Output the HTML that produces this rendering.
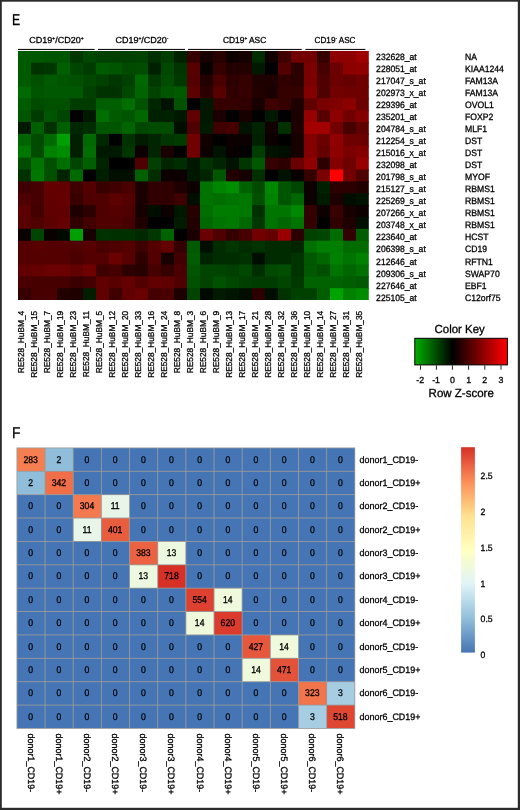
<!DOCTYPE html>
<html lang="en">
<head>
<meta charset="utf-8">
<title>Figure panels E and F</title>
<style>
html,body{margin:0;padding:0;background:#fff;}
body{width:520px;height:810px;overflow:hidden;font-family:"Liberation Sans",sans-serif;}
svg{display:block;}
text{text-rendering:geometricPrecision;white-space:pre;stroke:#000;stroke-width:0.3px;}
</style>
</head>
<body>
<svg width="520" height="810" viewBox="0 0 520 810" font-family="'Liberation Sans', sans-serif" fill="#000">
<defs>
<clipPath id="hc"><rect x="18.00" y="50.80" width="350.80" height="249.27"/></clipPath>
<linearGradient id="kg" x1="0" x2="1" y1="0" y2="0"><stop offset="0" stop-color="#00b000"/><stop offset="0.407" stop-color="#000000"/><stop offset="1" stop-color="#ff0000"/></linearGradient>
<linearGradient id="lg" x1="0" x2="0" y1="1" y2="0">
<stop offset="0.0000" stop-color="#4575B4"/>
<stop offset="0.1667" stop-color="#91BFDB"/>
<stop offset="0.3333" stop-color="#E0F3F8"/>
<stop offset="0.5000" stop-color="#FFFFBF"/>
<stop offset="0.6667" stop-color="#FEE090"/>
<stop offset="0.8333" stop-color="#FC8D59"/>
<stop offset="1.0000" stop-color="#D73027"/>
</linearGradient>
</defs>
<rect x="0" y="0" width="520" height="810" fill="#ffffff"/>
<text transform="translate(11.9,25.4) scale(0.78,1)" font-size="15.6">E</text>
<rect x="18.0" y="48.9" width="76.6" height="1.1" fill="#111"/>
<rect x="98.0" y="48.9" width="87.0" height="1.1" fill="#111"/>
<rect x="188.0" y="48.9" width="113.7" height="1.1" fill="#111"/>
<rect x="305.4" y="48.9" width="60.0" height="1.1" fill="#111"/>
<text x="29.2" y="42.5" font-size="8.7" textLength="54.5" lengthAdjust="spacingAndGlyphs">CD19<tspan font-size="4.8" dy="-2.8">+</tspan><tspan dy="2.8" font-size="8.7">/CD20</tspan><tspan font-size="4.8" dy="-2.8">+</tspan></text>
<text x="115.5" y="42.5" font-size="8.7" textLength="53.0" lengthAdjust="spacingAndGlyphs">CD19<tspan font-size="4.8" dy="-2.8">+</tspan><tspan dy="2.8" font-size="8.7">/CD20</tspan><tspan font-size="4.8" dy="-2.8">-</tspan></text>
<text x="222.9" y="42.5" font-size="8.7" textLength="43.4" lengthAdjust="spacingAndGlyphs">CD19<tspan font-size="4.8" dy="-2.8">+</tspan><tspan dy="2.8" font-size="8.7"> ASC</tspan></text>
<text x="314.6" y="42.5" font-size="8.7" textLength="40.9" lengthAdjust="spacingAndGlyphs">CD19<tspan font-size="4.8" dy="-2.8">-</tspan><tspan dy="2.8" font-size="8.7"> ASC</tspan></text>
<g clip-path="url(#hc)">
<rect x="18.00" y="50.80" width="14.00" height="12.87" fill="#005a00"/>
<rect x="31.00" y="50.80" width="14.00" height="12.87" fill="#005800"/>
<rect x="44.00" y="50.80" width="14.00" height="12.87" fill="#005500"/>
<rect x="57.00" y="50.80" width="14.00" height="12.87" fill="#005500"/>
<rect x="70.00" y="50.80" width="14.00" height="12.87" fill="#003700"/>
<rect x="83.00" y="50.80" width="14.00" height="12.87" fill="#004800"/>
<rect x="96.00" y="50.80" width="14.00" height="12.87" fill="#004000"/>
<rect x="109.00" y="50.80" width="14.00" height="12.87" fill="#004000"/>
<rect x="122.00" y="50.80" width="14.00" height="12.87" fill="#004000"/>
<rect x="135.00" y="50.80" width="14.00" height="12.87" fill="#004200"/>
<rect x="148.00" y="50.80" width="14.00" height="12.87" fill="#003000"/>
<rect x="161.00" y="50.80" width="14.00" height="12.87" fill="#003e00"/>
<rect x="174.00" y="50.80" width="14.00" height="12.87" fill="#002100"/>
<rect x="187.00" y="50.80" width="14.00" height="12.87" fill="#350000"/>
<rect x="200.00" y="50.80" width="14.00" height="12.87" fill="#160000"/>
<rect x="213.00" y="50.80" width="14.00" height="12.87" fill="#280000"/>
<rect x="226.00" y="50.80" width="14.00" height="12.87" fill="#0d0000"/>
<rect x="239.00" y="50.80" width="14.00" height="12.87" fill="#160000"/>
<rect x="252.00" y="50.80" width="14.00" height="12.87" fill="#002d00"/>
<rect x="265.00" y="50.80" width="14.00" height="12.87" fill="#120000"/>
<rect x="278.00" y="50.80" width="14.00" height="12.87" fill="#3e0000"/>
<rect x="291.00" y="50.80" width="14.00" height="12.87" fill="#720000"/>
<rect x="304.00" y="50.80" width="14.00" height="12.87" fill="#720000"/>
<rect x="317.00" y="50.80" width="14.00" height="12.87" fill="#350000"/>
<rect x="330.00" y="50.80" width="14.00" height="12.87" fill="#8d0000"/>
<rect x="343.00" y="50.80" width="14.00" height="12.87" fill="#8d0000"/>
<rect x="356.00" y="50.80" width="14.00" height="12.87" fill="#9e0000"/>
<rect x="18.00" y="62.67" width="14.00" height="12.87" fill="#005a00"/>
<rect x="31.00" y="62.67" width="14.00" height="12.87" fill="#003200"/>
<rect x="44.00" y="62.67" width="14.00" height="12.87" fill="#003700"/>
<rect x="57.00" y="62.67" width="14.00" height="12.87" fill="#005f00"/>
<rect x="70.00" y="62.67" width="14.00" height="12.87" fill="#004600"/>
<rect x="83.00" y="62.67" width="14.00" height="12.87" fill="#003c00"/>
<rect x="96.00" y="62.67" width="14.00" height="12.87" fill="#005a00"/>
<rect x="109.00" y="62.67" width="14.00" height="12.87" fill="#005500"/>
<rect x="122.00" y="62.67" width="14.00" height="12.87" fill="#004b00"/>
<rect x="135.00" y="62.67" width="14.00" height="12.87" fill="#004c00"/>
<rect x="148.00" y="62.67" width="14.00" height="12.87" fill="#002100"/>
<rect x="161.00" y="62.67" width="14.00" height="12.87" fill="#004700"/>
<rect x="174.00" y="62.67" width="14.00" height="12.87" fill="#003400"/>
<rect x="187.00" y="62.67" width="14.00" height="12.87" fill="#580000"/>
<rect x="200.00" y="62.67" width="14.00" height="12.87" fill="#090000"/>
<rect x="213.00" y="62.67" width="14.00" height="12.87" fill="#350000"/>
<rect x="226.00" y="62.67" width="14.00" height="12.87" fill="#230000"/>
<rect x="239.00" y="62.67" width="14.00" height="12.87" fill="#230000"/>
<rect x="252.00" y="62.67" width="14.00" height="12.87" fill="#001900"/>
<rect x="265.00" y="62.67" width="14.00" height="12.87" fill="#000000"/>
<rect x="278.00" y="62.67" width="14.00" height="12.87" fill="#540000"/>
<rect x="291.00" y="62.67" width="14.00" height="12.87" fill="#2c0000"/>
<rect x="304.00" y="62.67" width="14.00" height="12.87" fill="#7b0000"/>
<rect x="317.00" y="62.67" width="14.00" height="12.87" fill="#460000"/>
<rect x="330.00" y="62.67" width="14.00" height="12.87" fill="#6a0000"/>
<rect x="343.00" y="62.67" width="14.00" height="12.87" fill="#8d0000"/>
<rect x="356.00" y="62.67" width="14.00" height="12.87" fill="#910000"/>
<rect x="18.00" y="74.54" width="14.00" height="12.87" fill="#005a00"/>
<rect x="31.00" y="74.54" width="14.00" height="12.87" fill="#005000"/>
<rect x="44.00" y="74.54" width="14.00" height="12.87" fill="#005a00"/>
<rect x="57.00" y="74.54" width="14.00" height="12.87" fill="#005500"/>
<rect x="70.00" y="74.54" width="14.00" height="12.87" fill="#005000"/>
<rect x="83.00" y="74.54" width="14.00" height="12.87" fill="#004800"/>
<rect x="96.00" y="74.54" width="14.00" height="12.87" fill="#004000"/>
<rect x="109.00" y="74.54" width="14.00" height="12.87" fill="#003700"/>
<rect x="122.00" y="74.54" width="14.00" height="12.87" fill="#004000"/>
<rect x="135.00" y="74.54" width="14.00" height="12.87" fill="#006800"/>
<rect x="148.00" y="74.54" width="14.00" height="12.87" fill="#003900"/>
<rect x="161.00" y="74.54" width="14.00" height="12.87" fill="#004c00"/>
<rect x="174.00" y="74.54" width="14.00" height="12.87" fill="#003900"/>
<rect x="187.00" y="74.54" width="14.00" height="12.87" fill="#540000"/>
<rect x="200.00" y="74.54" width="14.00" height="12.87" fill="#230000"/>
<rect x="213.00" y="74.54" width="14.00" height="12.87" fill="#4b0000"/>
<rect x="226.00" y="74.54" width="14.00" height="12.87" fill="#2c0000"/>
<rect x="239.00" y="74.54" width="14.00" height="12.87" fill="#350000"/>
<rect x="252.00" y="74.54" width="14.00" height="12.87" fill="#1f0000"/>
<rect x="265.00" y="74.54" width="14.00" height="12.87" fill="#1f0000"/>
<rect x="278.00" y="74.54" width="14.00" height="12.87" fill="#300000"/>
<rect x="291.00" y="74.54" width="14.00" height="12.87" fill="#2c0000"/>
<rect x="304.00" y="74.54" width="14.00" height="12.87" fill="#7b0000"/>
<rect x="317.00" y="74.54" width="14.00" height="12.87" fill="#4f0000"/>
<rect x="330.00" y="74.54" width="14.00" height="12.87" fill="#6a0000"/>
<rect x="343.00" y="74.54" width="14.00" height="12.87" fill="#650000"/>
<rect x="356.00" y="74.54" width="14.00" height="12.87" fill="#6e0000"/>
<rect x="18.00" y="86.41" width="14.00" height="12.87" fill="#006900"/>
<rect x="31.00" y="86.41" width="14.00" height="12.87" fill="#005500"/>
<rect x="44.00" y="86.41" width="14.00" height="12.87" fill="#005800"/>
<rect x="57.00" y="86.41" width="14.00" height="12.87" fill="#005800"/>
<rect x="70.00" y="86.41" width="14.00" height="12.87" fill="#005800"/>
<rect x="83.00" y="86.41" width="14.00" height="12.87" fill="#004000"/>
<rect x="96.00" y="86.41" width="14.00" height="12.87" fill="#003200"/>
<rect x="109.00" y="86.41" width="14.00" height="12.87" fill="#003200"/>
<rect x="122.00" y="86.41" width="14.00" height="12.87" fill="#004800"/>
<rect x="135.00" y="86.41" width="14.00" height="12.87" fill="#006400"/>
<rect x="148.00" y="86.41" width="14.00" height="12.87" fill="#004200"/>
<rect x="161.00" y="86.41" width="14.00" height="12.87" fill="#005600"/>
<rect x="174.00" y="86.41" width="14.00" height="12.87" fill="#005a00"/>
<rect x="187.00" y="86.41" width="14.00" height="12.87" fill="#5c0000"/>
<rect x="200.00" y="86.41" width="14.00" height="12.87" fill="#2c0000"/>
<rect x="213.00" y="86.41" width="14.00" height="12.87" fill="#580000"/>
<rect x="226.00" y="86.41" width="14.00" height="12.87" fill="#300000"/>
<rect x="239.00" y="86.41" width="14.00" height="12.87" fill="#350000"/>
<rect x="252.00" y="86.41" width="14.00" height="12.87" fill="#230000"/>
<rect x="265.00" y="86.41" width="14.00" height="12.87" fill="#1a0000"/>
<rect x="278.00" y="86.41" width="14.00" height="12.87" fill="#350000"/>
<rect x="291.00" y="86.41" width="14.00" height="12.87" fill="#350000"/>
<rect x="304.00" y="86.41" width="14.00" height="12.87" fill="#840000"/>
<rect x="317.00" y="86.41" width="14.00" height="12.87" fill="#4f0000"/>
<rect x="330.00" y="86.41" width="14.00" height="12.87" fill="#720000"/>
<rect x="343.00" y="86.41" width="14.00" height="12.87" fill="#6e0000"/>
<rect x="356.00" y="86.41" width="14.00" height="12.87" fill="#6e0000"/>
<rect x="18.00" y="98.28" width="14.00" height="12.87" fill="#005a00"/>
<rect x="31.00" y="98.28" width="14.00" height="12.87" fill="#004b00"/>
<rect x="44.00" y="98.28" width="14.00" height="12.87" fill="#005000"/>
<rect x="57.00" y="98.28" width="14.00" height="12.87" fill="#005000"/>
<rect x="70.00" y="98.28" width="14.00" height="12.87" fill="#003c00"/>
<rect x="83.00" y="98.28" width="14.00" height="12.87" fill="#003c00"/>
<rect x="96.00" y="98.28" width="14.00" height="12.87" fill="#005f00"/>
<rect x="109.00" y="98.28" width="14.00" height="12.87" fill="#005f00"/>
<rect x="122.00" y="98.28" width="14.00" height="12.87" fill="#006e00"/>
<rect x="135.00" y="98.28" width="14.00" height="12.87" fill="#005100"/>
<rect x="148.00" y="98.28" width="14.00" height="12.87" fill="#002600"/>
<rect x="161.00" y="98.28" width="14.00" height="12.87" fill="#001300"/>
<rect x="174.00" y="98.28" width="14.00" height="12.87" fill="#005100"/>
<rect x="187.00" y="98.28" width="14.00" height="12.87" fill="#000000"/>
<rect x="200.00" y="98.28" width="14.00" height="12.87" fill="#001800"/>
<rect x="213.00" y="98.28" width="14.00" height="12.87" fill="#350000"/>
<rect x="226.00" y="98.28" width="14.00" height="12.87" fill="#350000"/>
<rect x="239.00" y="98.28" width="14.00" height="12.87" fill="#300000"/>
<rect x="252.00" y="98.28" width="14.00" height="12.87" fill="#160000"/>
<rect x="265.00" y="98.28" width="14.00" height="12.87" fill="#3e0000"/>
<rect x="278.00" y="98.28" width="14.00" height="12.87" fill="#350000"/>
<rect x="291.00" y="98.28" width="14.00" height="12.87" fill="#1f0000"/>
<rect x="304.00" y="98.28" width="14.00" height="12.87" fill="#610000"/>
<rect x="317.00" y="98.28" width="14.00" height="12.87" fill="#7b0000"/>
<rect x="330.00" y="98.28" width="14.00" height="12.87" fill="#800000"/>
<rect x="343.00" y="98.28" width="14.00" height="12.87" fill="#8d0000"/>
<rect x="356.00" y="98.28" width="14.00" height="12.87" fill="#6a0000"/>
<rect x="18.00" y="110.15" width="14.00" height="12.87" fill="#005500"/>
<rect x="31.00" y="110.15" width="14.00" height="12.87" fill="#003c00"/>
<rect x="44.00" y="110.15" width="14.00" height="12.87" fill="#005500"/>
<rect x="57.00" y="110.15" width="14.00" height="12.87" fill="#004600"/>
<rect x="70.00" y="110.15" width="14.00" height="12.87" fill="#000000"/>
<rect x="83.00" y="110.15" width="14.00" height="12.87" fill="#001900"/>
<rect x="96.00" y="110.15" width="14.00" height="12.87" fill="#006e00"/>
<rect x="109.00" y="110.15" width="14.00" height="12.87" fill="#005a00"/>
<rect x="122.00" y="110.15" width="14.00" height="12.87" fill="#005500"/>
<rect x="135.00" y="110.15" width="14.00" height="12.87" fill="#006800"/>
<rect x="148.00" y="110.15" width="14.00" height="12.87" fill="#002100"/>
<rect x="161.00" y="110.15" width="14.00" height="12.87" fill="#002100"/>
<rect x="174.00" y="110.15" width="14.00" height="12.87" fill="#001800"/>
<rect x="187.00" y="110.15" width="14.00" height="12.87" fill="#610000"/>
<rect x="200.00" y="110.15" width="14.00" height="12.87" fill="#001800"/>
<rect x="213.00" y="110.15" width="14.00" height="12.87" fill="#1a0000"/>
<rect x="226.00" y="110.15" width="14.00" height="12.87" fill="#000000"/>
<rect x="239.00" y="110.15" width="14.00" height="12.87" fill="#160000"/>
<rect x="252.00" y="110.15" width="14.00" height="12.87" fill="#000000"/>
<rect x="265.00" y="110.15" width="14.00" height="12.87" fill="#001900"/>
<rect x="278.00" y="110.15" width="14.00" height="12.87" fill="#000000"/>
<rect x="291.00" y="110.15" width="14.00" height="12.87" fill="#1a0000"/>
<rect x="304.00" y="110.15" width="14.00" height="12.87" fill="#960000"/>
<rect x="317.00" y="110.15" width="14.00" height="12.87" fill="#580000"/>
<rect x="330.00" y="110.15" width="14.00" height="12.87" fill="#8d0000"/>
<rect x="343.00" y="110.15" width="14.00" height="12.87" fill="#720000"/>
<rect x="356.00" y="110.15" width="14.00" height="12.87" fill="#840000"/>
<rect x="18.00" y="122.02" width="14.00" height="12.87" fill="#001900"/>
<rect x="31.00" y="122.02" width="14.00" height="12.87" fill="#005f00"/>
<rect x="44.00" y="122.02" width="14.00" height="12.87" fill="#003200"/>
<rect x="57.00" y="122.02" width="14.00" height="12.87" fill="#005f00"/>
<rect x="70.00" y="122.02" width="14.00" height="12.87" fill="#002800"/>
<rect x="83.00" y="122.02" width="14.00" height="12.87" fill="#002d00"/>
<rect x="96.00" y="122.02" width="14.00" height="12.87" fill="#005500"/>
<rect x="109.00" y="122.02" width="14.00" height="12.87" fill="#005500"/>
<rect x="122.00" y="122.02" width="14.00" height="12.87" fill="#006400"/>
<rect x="135.00" y="122.02" width="14.00" height="12.87" fill="#004700"/>
<rect x="148.00" y="122.02" width="14.00" height="12.87" fill="#004c00"/>
<rect x="161.00" y="122.02" width="14.00" height="12.87" fill="#004c00"/>
<rect x="174.00" y="122.02" width="14.00" height="12.87" fill="#000e00"/>
<rect x="187.00" y="122.02" width="14.00" height="12.87" fill="#4f0000"/>
<rect x="200.00" y="122.02" width="14.00" height="12.87" fill="#001c00"/>
<rect x="213.00" y="122.02" width="14.00" height="12.87" fill="#3e0000"/>
<rect x="226.00" y="122.02" width="14.00" height="12.87" fill="#460000"/>
<rect x="239.00" y="122.02" width="14.00" height="12.87" fill="#001300"/>
<rect x="252.00" y="122.02" width="14.00" height="12.87" fill="#002300"/>
<rect x="265.00" y="122.02" width="14.00" height="12.87" fill="#120000"/>
<rect x="278.00" y="122.02" width="14.00" height="12.87" fill="#003200"/>
<rect x="291.00" y="122.02" width="14.00" height="12.87" fill="#1f0000"/>
<rect x="304.00" y="122.02" width="14.00" height="12.87" fill="#a30000"/>
<rect x="317.00" y="122.02" width="14.00" height="12.87" fill="#a30000"/>
<rect x="330.00" y="122.02" width="14.00" height="12.87" fill="#720000"/>
<rect x="343.00" y="122.02" width="14.00" height="12.87" fill="#460000"/>
<rect x="356.00" y="122.02" width="14.00" height="12.87" fill="#610000"/>
<rect x="18.00" y="133.89" width="14.00" height="12.87" fill="#006400"/>
<rect x="31.00" y="133.89" width="14.00" height="12.87" fill="#004b00"/>
<rect x="44.00" y="133.89" width="14.00" height="12.87" fill="#006900"/>
<rect x="57.00" y="133.89" width="14.00" height="12.87" fill="#00a000"/>
<rect x="70.00" y="133.89" width="14.00" height="12.87" fill="#001e00"/>
<rect x="83.00" y="133.89" width="14.00" height="12.87" fill="#006900"/>
<rect x="96.00" y="133.89" width="14.00" height="12.87" fill="#002800"/>
<rect x="109.00" y="133.89" width="14.00" height="12.87" fill="#000000"/>
<rect x="122.00" y="133.89" width="14.00" height="12.87" fill="#003200"/>
<rect x="135.00" y="133.89" width="14.00" height="12.87" fill="#001c00"/>
<rect x="148.00" y="133.89" width="14.00" height="12.87" fill="#002500"/>
<rect x="161.00" y="133.89" width="14.00" height="12.87" fill="#003700"/>
<rect x="174.00" y="133.89" width="14.00" height="12.87" fill="#003c00"/>
<rect x="187.00" y="133.89" width="14.00" height="12.87" fill="#720000"/>
<rect x="200.00" y="133.89" width="14.00" height="12.87" fill="#120000"/>
<rect x="213.00" y="133.89" width="14.00" height="12.87" fill="#000000"/>
<rect x="226.00" y="133.89" width="14.00" height="12.87" fill="#0d0000"/>
<rect x="239.00" y="133.89" width="14.00" height="12.87" fill="#0d0000"/>
<rect x="252.00" y="133.89" width="14.00" height="12.87" fill="#002100"/>
<rect x="265.00" y="133.89" width="14.00" height="12.87" fill="#0d0000"/>
<rect x="278.00" y="133.89" width="14.00" height="12.87" fill="#000000"/>
<rect x="291.00" y="133.89" width="14.00" height="12.87" fill="#160000"/>
<rect x="304.00" y="133.89" width="14.00" height="12.87" fill="#840000"/>
<rect x="317.00" y="133.89" width="14.00" height="12.87" fill="#6a0000"/>
<rect x="330.00" y="133.89" width="14.00" height="12.87" fill="#910000"/>
<rect x="343.00" y="133.89" width="14.00" height="12.87" fill="#6e0000"/>
<rect x="356.00" y="133.89" width="14.00" height="12.87" fill="#6a0000"/>
<rect x="18.00" y="145.76" width="14.00" height="12.87" fill="#007800"/>
<rect x="31.00" y="145.76" width="14.00" height="12.87" fill="#004b00"/>
<rect x="44.00" y="145.76" width="14.00" height="12.87" fill="#008200"/>
<rect x="57.00" y="145.76" width="14.00" height="12.87" fill="#008c00"/>
<rect x="70.00" y="145.76" width="14.00" height="12.87" fill="#001e00"/>
<rect x="83.00" y="145.76" width="14.00" height="12.87" fill="#006e00"/>
<rect x="96.00" y="145.76" width="14.00" height="12.87" fill="#001900"/>
<rect x="109.00" y="145.76" width="14.00" height="12.87" fill="#001900"/>
<rect x="122.00" y="145.76" width="14.00" height="12.87" fill="#003700"/>
<rect x="135.00" y="145.76" width="14.00" height="12.87" fill="#0d0000"/>
<rect x="148.00" y="145.76" width="14.00" height="12.87" fill="#002500"/>
<rect x="161.00" y="145.76" width="14.00" height="12.87" fill="#1a0000"/>
<rect x="174.00" y="145.76" width="14.00" height="12.87" fill="#000000"/>
<rect x="187.00" y="145.76" width="14.00" height="12.87" fill="#720000"/>
<rect x="200.00" y="145.76" width="14.00" height="12.87" fill="#0d0000"/>
<rect x="213.00" y="145.76" width="14.00" height="12.87" fill="#001200"/>
<rect x="226.00" y="145.76" width="14.00" height="12.87" fill="#090000"/>
<rect x="239.00" y="145.76" width="14.00" height="12.87" fill="#000000"/>
<rect x="252.00" y="145.76" width="14.00" height="12.87" fill="#003d00"/>
<rect x="265.00" y="145.76" width="14.00" height="12.87" fill="#001300"/>
<rect x="278.00" y="145.76" width="14.00" height="12.87" fill="#000e00"/>
<rect x="291.00" y="145.76" width="14.00" height="12.87" fill="#160000"/>
<rect x="304.00" y="145.76" width="14.00" height="12.87" fill="#840000"/>
<rect x="317.00" y="145.76" width="14.00" height="12.87" fill="#650000"/>
<rect x="330.00" y="145.76" width="14.00" height="12.87" fill="#8d0000"/>
<rect x="343.00" y="145.76" width="14.00" height="12.87" fill="#7b0000"/>
<rect x="356.00" y="145.76" width="14.00" height="12.87" fill="#840000"/>
<rect x="18.00" y="157.63" width="14.00" height="12.87" fill="#004b00"/>
<rect x="31.00" y="157.63" width="14.00" height="12.87" fill="#007300"/>
<rect x="44.00" y="157.63" width="14.00" height="12.87" fill="#005000"/>
<rect x="57.00" y="157.63" width="14.00" height="12.87" fill="#006e00"/>
<rect x="70.00" y="157.63" width="14.00" height="12.87" fill="#004600"/>
<rect x="83.00" y="157.63" width="14.00" height="12.87" fill="#005f00"/>
<rect x="96.00" y="157.63" width="14.00" height="12.87" fill="#002300"/>
<rect x="109.00" y="157.63" width="14.00" height="12.87" fill="#000000"/>
<rect x="122.00" y="157.63" width="14.00" height="12.87" fill="#000000"/>
<rect x="135.00" y="157.63" width="14.00" height="12.87" fill="#4f0000"/>
<rect x="148.00" y="157.63" width="14.00" height="12.87" fill="#004000"/>
<rect x="161.00" y="157.63" width="14.00" height="12.87" fill="#002500"/>
<rect x="174.00" y="157.63" width="14.00" height="12.87" fill="#002e00"/>
<rect x="187.00" y="157.63" width="14.00" height="12.87" fill="#001700"/>
<rect x="200.00" y="157.63" width="14.00" height="12.87" fill="#003300"/>
<rect x="213.00" y="157.63" width="14.00" height="12.87" fill="#002500"/>
<rect x="226.00" y="157.63" width="14.00" height="12.87" fill="#001200"/>
<rect x="239.00" y="157.63" width="14.00" height="12.87" fill="#003700"/>
<rect x="252.00" y="157.63" width="14.00" height="12.87" fill="#005900"/>
<rect x="265.00" y="157.63" width="14.00" height="12.87" fill="#350000"/>
<rect x="278.00" y="157.63" width="14.00" height="12.87" fill="#2c0000"/>
<rect x="291.00" y="157.63" width="14.00" height="12.87" fill="#6a0000"/>
<rect x="304.00" y="157.63" width="14.00" height="12.87" fill="#910000"/>
<rect x="317.00" y="157.63" width="14.00" height="12.87" fill="#2c0000"/>
<rect x="330.00" y="157.63" width="14.00" height="12.87" fill="#840000"/>
<rect x="343.00" y="157.63" width="14.00" height="12.87" fill="#6e0000"/>
<rect x="356.00" y="157.63" width="14.00" height="12.87" fill="#960000"/>
<rect x="18.00" y="169.50" width="14.00" height="12.87" fill="#003200"/>
<rect x="31.00" y="169.50" width="14.00" height="12.87" fill="#007800"/>
<rect x="44.00" y="169.50" width="14.00" height="12.87" fill="#005000"/>
<rect x="57.00" y="169.50" width="14.00" height="12.87" fill="#002300"/>
<rect x="70.00" y="169.50" width="14.00" height="12.87" fill="#006900"/>
<rect x="83.00" y="169.50" width="14.00" height="12.87" fill="#000000"/>
<rect x="96.00" y="169.50" width="14.00" height="12.87" fill="#001e00"/>
<rect x="109.00" y="169.50" width="14.00" height="12.87" fill="#000f00"/>
<rect x="122.00" y="169.50" width="14.00" height="12.87" fill="#000f00"/>
<rect x="135.00" y="169.50" width="14.00" height="12.87" fill="#006100"/>
<rect x="148.00" y="169.50" width="14.00" height="12.87" fill="#002e00"/>
<rect x="161.00" y="169.50" width="14.00" height="12.87" fill="#0d0000"/>
<rect x="174.00" y="169.50" width="14.00" height="12.87" fill="#0d0000"/>
<rect x="187.00" y="169.50" width="14.00" height="12.87" fill="#001700"/>
<rect x="200.00" y="169.50" width="14.00" height="12.87" fill="#002500"/>
<rect x="213.00" y="169.50" width="14.00" height="12.87" fill="#005700"/>
<rect x="226.00" y="169.50" width="14.00" height="12.87" fill="#230000"/>
<rect x="239.00" y="169.50" width="14.00" height="12.87" fill="#160000"/>
<rect x="252.00" y="169.50" width="14.00" height="12.87" fill="#002f00"/>
<rect x="265.00" y="169.50" width="14.00" height="12.87" fill="#000000"/>
<rect x="278.00" y="169.50" width="14.00" height="12.87" fill="#001300"/>
<rect x="291.00" y="169.50" width="14.00" height="12.87" fill="#090000"/>
<rect x="304.00" y="169.50" width="14.00" height="12.87" fill="#350000"/>
<rect x="317.00" y="169.50" width="14.00" height="12.87" fill="#7b0000"/>
<rect x="330.00" y="169.50" width="14.00" height="12.87" fill="#ff0000"/>
<rect x="343.00" y="169.50" width="14.00" height="12.87" fill="#720000"/>
<rect x="356.00" y="169.50" width="14.00" height="12.87" fill="#4f0000"/>
<rect x="18.00" y="181.37" width="14.00" height="12.87" fill="#3e0000"/>
<rect x="31.00" y="181.37" width="14.00" height="12.87" fill="#460000"/>
<rect x="44.00" y="181.37" width="14.00" height="12.87" fill="#650000"/>
<rect x="57.00" y="181.37" width="14.00" height="12.87" fill="#610000"/>
<rect x="70.00" y="181.37" width="14.00" height="12.87" fill="#3e0000"/>
<rect x="83.00" y="181.37" width="14.00" height="12.87" fill="#540000"/>
<rect x="96.00" y="181.37" width="14.00" height="12.87" fill="#390000"/>
<rect x="109.00" y="181.37" width="14.00" height="12.87" fill="#3e0000"/>
<rect x="122.00" y="181.37" width="14.00" height="12.87" fill="#4b0000"/>
<rect x="135.00" y="181.37" width="14.00" height="12.87" fill="#1a0000"/>
<rect x="148.00" y="181.37" width="14.00" height="12.87" fill="#300000"/>
<rect x="161.00" y="181.37" width="14.00" height="12.87" fill="#300000"/>
<rect x="174.00" y="181.37" width="14.00" height="12.87" fill="#1f0000"/>
<rect x="187.00" y="181.37" width="14.00" height="12.87" fill="#0d0000"/>
<rect x="200.00" y="181.37" width="14.00" height="12.87" fill="#007300"/>
<rect x="213.00" y="181.37" width="14.00" height="12.87" fill="#008500"/>
<rect x="226.00" y="181.37" width="14.00" height="12.87" fill="#008f00"/>
<rect x="239.00" y="181.37" width="14.00" height="12.87" fill="#006100"/>
<rect x="252.00" y="181.37" width="14.00" height="12.87" fill="#004b00"/>
<rect x="265.00" y="181.37" width="14.00" height="12.87" fill="#008800"/>
<rect x="278.00" y="181.37" width="14.00" height="12.87" fill="#005500"/>
<rect x="291.00" y="181.37" width="14.00" height="12.87" fill="#004600"/>
<rect x="304.00" y="181.37" width="14.00" height="12.87" fill="#0d0000"/>
<rect x="317.00" y="181.37" width="14.00" height="12.87" fill="#002100"/>
<rect x="330.00" y="181.37" width="14.00" height="12.87" fill="#2c0000"/>
<rect x="343.00" y="181.37" width="14.00" height="12.87" fill="#2c0000"/>
<rect x="356.00" y="181.37" width="14.00" height="12.87" fill="#230000"/>
<rect x="18.00" y="193.24" width="14.00" height="12.87" fill="#4f0000"/>
<rect x="31.00" y="193.24" width="14.00" height="12.87" fill="#460000"/>
<rect x="44.00" y="193.24" width="14.00" height="12.87" fill="#610000"/>
<rect x="57.00" y="193.24" width="14.00" height="12.87" fill="#650000"/>
<rect x="70.00" y="193.24" width="14.00" height="12.87" fill="#390000"/>
<rect x="83.00" y="193.24" width="14.00" height="12.87" fill="#4f0000"/>
<rect x="96.00" y="193.24" width="14.00" height="12.87" fill="#4f0000"/>
<rect x="109.00" y="193.24" width="14.00" height="12.87" fill="#5c0000"/>
<rect x="122.00" y="193.24" width="14.00" height="12.87" fill="#540000"/>
<rect x="135.00" y="193.24" width="14.00" height="12.87" fill="#1a0000"/>
<rect x="148.00" y="193.24" width="14.00" height="12.87" fill="#300000"/>
<rect x="161.00" y="193.24" width="14.00" height="12.87" fill="#300000"/>
<rect x="174.00" y="193.24" width="14.00" height="12.87" fill="#3e0000"/>
<rect x="187.00" y="193.24" width="14.00" height="12.87" fill="#000e00"/>
<rect x="200.00" y="193.24" width="14.00" height="12.87" fill="#007300"/>
<rect x="213.00" y="193.24" width="14.00" height="12.87" fill="#006e00"/>
<rect x="226.00" y="193.24" width="14.00" height="12.87" fill="#007300"/>
<rect x="239.00" y="193.24" width="14.00" height="12.87" fill="#007800"/>
<rect x="252.00" y="193.24" width="14.00" height="12.87" fill="#005000"/>
<rect x="265.00" y="193.24" width="14.00" height="12.87" fill="#008400"/>
<rect x="278.00" y="193.24" width="14.00" height="12.87" fill="#005500"/>
<rect x="291.00" y="193.24" width="14.00" height="12.87" fill="#006700"/>
<rect x="304.00" y="193.24" width="14.00" height="12.87" fill="#0d0000"/>
<rect x="317.00" y="193.24" width="14.00" height="12.87" fill="#001c00"/>
<rect x="330.00" y="193.24" width="14.00" height="12.87" fill="#1f0000"/>
<rect x="343.00" y="193.24" width="14.00" height="12.87" fill="#000e00"/>
<rect x="356.00" y="193.24" width="14.00" height="12.87" fill="#001300"/>
<rect x="18.00" y="205.11" width="14.00" height="12.87" fill="#5c0000"/>
<rect x="31.00" y="205.11" width="14.00" height="12.87" fill="#420000"/>
<rect x="44.00" y="205.11" width="14.00" height="12.87" fill="#610000"/>
<rect x="57.00" y="205.11" width="14.00" height="12.87" fill="#610000"/>
<rect x="70.00" y="205.11" width="14.00" height="12.87" fill="#1f0000"/>
<rect x="83.00" y="205.11" width="14.00" height="12.87" fill="#2c0000"/>
<rect x="96.00" y="205.11" width="14.00" height="12.87" fill="#4f0000"/>
<rect x="109.00" y="205.11" width="14.00" height="12.87" fill="#540000"/>
<rect x="122.00" y="205.11" width="14.00" height="12.87" fill="#4f0000"/>
<rect x="135.00" y="205.11" width="14.00" height="12.87" fill="#160000"/>
<rect x="148.00" y="205.11" width="14.00" height="12.87" fill="#000e00"/>
<rect x="161.00" y="205.11" width="14.00" height="12.87" fill="#0d0000"/>
<rect x="174.00" y="205.11" width="14.00" height="12.87" fill="#001700"/>
<rect x="187.00" y="205.11" width="14.00" height="12.87" fill="#280000"/>
<rect x="200.00" y="205.11" width="14.00" height="12.87" fill="#006e00"/>
<rect x="213.00" y="205.11" width="14.00" height="12.87" fill="#007c00"/>
<rect x="226.00" y="205.11" width="14.00" height="12.87" fill="#007c00"/>
<rect x="239.00" y="205.11" width="14.00" height="12.87" fill="#007800"/>
<rect x="252.00" y="205.11" width="14.00" height="12.87" fill="#002f00"/>
<rect x="265.00" y="205.11" width="14.00" height="12.87" fill="#007600"/>
<rect x="278.00" y="205.11" width="14.00" height="12.87" fill="#007600"/>
<rect x="291.00" y="205.11" width="14.00" height="12.87" fill="#008800"/>
<rect x="304.00" y="205.11" width="14.00" height="12.87" fill="#350000"/>
<rect x="317.00" y="205.11" width="14.00" height="12.87" fill="#0d0000"/>
<rect x="330.00" y="205.11" width="14.00" height="12.87" fill="#390000"/>
<rect x="343.00" y="205.11" width="14.00" height="12.87" fill="#160000"/>
<rect x="356.00" y="205.11" width="14.00" height="12.87" fill="#0d0000"/>
<rect x="18.00" y="216.98" width="14.00" height="12.87" fill="#580000"/>
<rect x="31.00" y="216.98" width="14.00" height="12.87" fill="#4f0000"/>
<rect x="44.00" y="216.98" width="14.00" height="12.87" fill="#5c0000"/>
<rect x="57.00" y="216.98" width="14.00" height="12.87" fill="#650000"/>
<rect x="70.00" y="216.98" width="14.00" height="12.87" fill="#300000"/>
<rect x="83.00" y="216.98" width="14.00" height="12.87" fill="#420000"/>
<rect x="96.00" y="216.98" width="14.00" height="12.87" fill="#4f0000"/>
<rect x="109.00" y="216.98" width="14.00" height="12.87" fill="#4f0000"/>
<rect x="122.00" y="216.98" width="14.00" height="12.87" fill="#460000"/>
<rect x="135.00" y="216.98" width="14.00" height="12.87" fill="#1f0000"/>
<rect x="148.00" y="216.98" width="14.00" height="12.87" fill="#000000"/>
<rect x="161.00" y="216.98" width="14.00" height="12.87" fill="#000000"/>
<rect x="174.00" y="216.98" width="14.00" height="12.87" fill="#001b00"/>
<rect x="187.00" y="216.98" width="14.00" height="12.87" fill="#230000"/>
<rect x="200.00" y="216.98" width="14.00" height="12.87" fill="#006800"/>
<rect x="213.00" y="216.98" width="14.00" height="12.87" fill="#007500"/>
<rect x="226.00" y="216.98" width="14.00" height="12.87" fill="#007a00"/>
<rect x="239.00" y="216.98" width="14.00" height="12.87" fill="#006800"/>
<rect x="252.00" y="216.98" width="14.00" height="12.87" fill="#003800"/>
<rect x="265.00" y="216.98" width="14.00" height="12.87" fill="#007400"/>
<rect x="278.00" y="216.98" width="14.00" height="12.87" fill="#006600"/>
<rect x="291.00" y="216.98" width="14.00" height="12.87" fill="#007400"/>
<rect x="304.00" y="216.98" width="14.00" height="12.87" fill="#350000"/>
<rect x="317.00" y="216.98" width="14.00" height="12.87" fill="#000000"/>
<rect x="330.00" y="216.98" width="14.00" height="12.87" fill="#300000"/>
<rect x="343.00" y="216.98" width="14.00" height="12.87" fill="#1f0000"/>
<rect x="356.00" y="216.98" width="14.00" height="12.87" fill="#000e00"/>
<rect x="18.00" y="228.85" width="14.00" height="12.87" fill="#090000"/>
<rect x="31.00" y="228.85" width="14.00" height="12.87" fill="#004600"/>
<rect x="44.00" y="228.85" width="14.00" height="12.87" fill="#090000"/>
<rect x="57.00" y="228.85" width="14.00" height="12.87" fill="#000a00"/>
<rect x="70.00" y="228.85" width="14.00" height="12.87" fill="#00a000"/>
<rect x="83.00" y="228.85" width="14.00" height="12.87" fill="#160000"/>
<rect x="96.00" y="228.85" width="14.00" height="12.87" fill="#003200"/>
<rect x="109.00" y="228.85" width="14.00" height="12.87" fill="#003000"/>
<rect x="122.00" y="228.85" width="14.00" height="12.87" fill="#003000"/>
<rect x="135.00" y="228.85" width="14.00" height="12.87" fill="#002800"/>
<rect x="148.00" y="228.85" width="14.00" height="12.87" fill="#003600"/>
<rect x="161.00" y="228.85" width="14.00" height="12.87" fill="#006300"/>
<rect x="174.00" y="228.85" width="14.00" height="12.87" fill="#000000"/>
<rect x="187.00" y="228.85" width="14.00" height="12.87" fill="#1a0000"/>
<rect x="200.00" y="228.85" width="14.00" height="12.87" fill="#6a0000"/>
<rect x="213.00" y="228.85" width="14.00" height="12.87" fill="#4f0000"/>
<rect x="226.00" y="228.85" width="14.00" height="12.87" fill="#350000"/>
<rect x="239.00" y="228.85" width="14.00" height="12.87" fill="#460000"/>
<rect x="252.00" y="228.85" width="14.00" height="12.87" fill="#720000"/>
<rect x="265.00" y="228.85" width="14.00" height="12.87" fill="#650000"/>
<rect x="278.00" y="228.85" width="14.00" height="12.87" fill="#9a0000"/>
<rect x="291.00" y="228.85" width="14.00" height="12.87" fill="#2c0000"/>
<rect x="304.00" y="228.85" width="14.00" height="12.87" fill="#004100"/>
<rect x="317.00" y="228.85" width="14.00" height="12.87" fill="#004600"/>
<rect x="330.00" y="228.85" width="14.00" height="12.87" fill="#006b00"/>
<rect x="343.00" y="228.85" width="14.00" height="12.87" fill="#350000"/>
<rect x="356.00" y="228.85" width="14.00" height="12.87" fill="#005d00"/>
<rect x="18.00" y="240.72" width="14.00" height="12.87" fill="#540000"/>
<rect x="31.00" y="240.72" width="14.00" height="12.87" fill="#580000"/>
<rect x="44.00" y="240.72" width="14.00" height="12.87" fill="#540000"/>
<rect x="57.00" y="240.72" width="14.00" height="12.87" fill="#540000"/>
<rect x="70.00" y="240.72" width="14.00" height="12.87" fill="#4f0000"/>
<rect x="83.00" y="240.72" width="14.00" height="12.87" fill="#580000"/>
<rect x="96.00" y="240.72" width="14.00" height="12.87" fill="#4b0000"/>
<rect x="109.00" y="240.72" width="14.00" height="12.87" fill="#4f0000"/>
<rect x="122.00" y="240.72" width="14.00" height="12.87" fill="#540000"/>
<rect x="135.00" y="240.72" width="14.00" height="12.87" fill="#3e0000"/>
<rect x="148.00" y="240.72" width="14.00" height="12.87" fill="#540000"/>
<rect x="161.00" y="240.72" width="14.00" height="12.87" fill="#650000"/>
<rect x="174.00" y="240.72" width="14.00" height="12.87" fill="#350000"/>
<rect x="187.00" y="240.72" width="14.00" height="12.87" fill="#005a00"/>
<rect x="200.00" y="240.72" width="14.00" height="12.87" fill="#000e00"/>
<rect x="213.00" y="240.72" width="14.00" height="12.87" fill="#002d00"/>
<rect x="226.00" y="240.72" width="14.00" height="12.87" fill="#003600"/>
<rect x="239.00" y="240.72" width="14.00" height="12.87" fill="#002d00"/>
<rect x="252.00" y="240.72" width="14.00" height="12.87" fill="#003300"/>
<rect x="265.00" y="240.72" width="14.00" height="12.87" fill="#002a00"/>
<rect x="278.00" y="240.72" width="14.00" height="12.87" fill="#002a00"/>
<rect x="291.00" y="240.72" width="14.00" height="12.87" fill="#002500"/>
<rect x="304.00" y="240.72" width="14.00" height="12.87" fill="#007000"/>
<rect x="317.00" y="240.72" width="14.00" height="12.87" fill="#007e00"/>
<rect x="330.00" y="240.72" width="14.00" height="12.87" fill="#007e00"/>
<rect x="343.00" y="240.72" width="14.00" height="12.87" fill="#006b00"/>
<rect x="356.00" y="240.72" width="14.00" height="12.87" fill="#006b00"/>
<rect x="18.00" y="252.59" width="14.00" height="12.87" fill="#540000"/>
<rect x="31.00" y="252.59" width="14.00" height="12.87" fill="#540000"/>
<rect x="44.00" y="252.59" width="14.00" height="12.87" fill="#540000"/>
<rect x="57.00" y="252.59" width="14.00" height="12.87" fill="#540000"/>
<rect x="70.00" y="252.59" width="14.00" height="12.87" fill="#4b0000"/>
<rect x="83.00" y="252.59" width="14.00" height="12.87" fill="#540000"/>
<rect x="96.00" y="252.59" width="14.00" height="12.87" fill="#540000"/>
<rect x="109.00" y="252.59" width="14.00" height="12.87" fill="#6a0000"/>
<rect x="122.00" y="252.59" width="14.00" height="12.87" fill="#580000"/>
<rect x="135.00" y="252.59" width="14.00" height="12.87" fill="#300000"/>
<rect x="148.00" y="252.59" width="14.00" height="12.87" fill="#540000"/>
<rect x="161.00" y="252.59" width="14.00" height="12.87" fill="#160000"/>
<rect x="174.00" y="252.59" width="14.00" height="12.87" fill="#420000"/>
<rect x="187.00" y="252.59" width="14.00" height="12.87" fill="#005e00"/>
<rect x="200.00" y="252.59" width="14.00" height="12.87" fill="#002400"/>
<rect x="213.00" y="252.59" width="14.00" height="12.87" fill="#002d00"/>
<rect x="226.00" y="252.59" width="14.00" height="12.87" fill="#002d00"/>
<rect x="239.00" y="252.59" width="14.00" height="12.87" fill="#003200"/>
<rect x="252.00" y="252.59" width="14.00" height="12.87" fill="#000e00"/>
<rect x="265.00" y="252.59" width="14.00" height="12.87" fill="#002a00"/>
<rect x="278.00" y="252.59" width="14.00" height="12.87" fill="#002a00"/>
<rect x="291.00" y="252.59" width="14.00" height="12.87" fill="#003300"/>
<rect x="304.00" y="252.59" width="14.00" height="12.87" fill="#005800"/>
<rect x="317.00" y="252.59" width="14.00" height="12.87" fill="#006600"/>
<rect x="330.00" y="252.59" width="14.00" height="12.87" fill="#008200"/>
<rect x="343.00" y="252.59" width="14.00" height="12.87" fill="#007400"/>
<rect x="356.00" y="252.59" width="14.00" height="12.87" fill="#008200"/>
<rect x="18.00" y="264.46" width="14.00" height="12.87" fill="#610000"/>
<rect x="31.00" y="264.46" width="14.00" height="12.87" fill="#650000"/>
<rect x="44.00" y="264.46" width="14.00" height="12.87" fill="#6a0000"/>
<rect x="57.00" y="264.46" width="14.00" height="12.87" fill="#6a0000"/>
<rect x="70.00" y="264.46" width="14.00" height="12.87" fill="#610000"/>
<rect x="83.00" y="264.46" width="14.00" height="12.87" fill="#6e0000"/>
<rect x="96.00" y="264.46" width="14.00" height="12.87" fill="#3e0000"/>
<rect x="109.00" y="264.46" width="14.00" height="12.87" fill="#460000"/>
<rect x="122.00" y="264.46" width="14.00" height="12.87" fill="#2c0000"/>
<rect x="135.00" y="264.46" width="14.00" height="12.87" fill="#280000"/>
<rect x="148.00" y="264.46" width="14.00" height="12.87" fill="#460000"/>
<rect x="161.00" y="264.46" width="14.00" height="12.87" fill="#350000"/>
<rect x="174.00" y="264.46" width="14.00" height="12.87" fill="#4b0000"/>
<rect x="187.00" y="264.46" width="14.00" height="12.87" fill="#005600"/>
<rect x="200.00" y="264.46" width="14.00" height="12.87" fill="#004400"/>
<rect x="213.00" y="264.46" width="14.00" height="12.87" fill="#004400"/>
<rect x="226.00" y="264.46" width="14.00" height="12.87" fill="#003f00"/>
<rect x="239.00" y="264.46" width="14.00" height="12.87" fill="#004800"/>
<rect x="252.00" y="264.46" width="14.00" height="12.87" fill="#002e00"/>
<rect x="265.00" y="264.46" width="14.00" height="12.87" fill="#004a00"/>
<rect x="278.00" y="264.46" width="14.00" height="12.87" fill="#004f00"/>
<rect x="291.00" y="264.46" width="14.00" height="12.87" fill="#003300"/>
<rect x="304.00" y="264.46" width="14.00" height="12.87" fill="#005800"/>
<rect x="317.00" y="264.46" width="14.00" height="12.87" fill="#004f00"/>
<rect x="330.00" y="264.46" width="14.00" height="12.87" fill="#007400"/>
<rect x="343.00" y="264.46" width="14.00" height="12.87" fill="#006600"/>
<rect x="356.00" y="264.46" width="14.00" height="12.87" fill="#007000"/>
<rect x="18.00" y="276.33" width="14.00" height="12.87" fill="#4b0000"/>
<rect x="31.00" y="276.33" width="14.00" height="12.87" fill="#460000"/>
<rect x="44.00" y="276.33" width="14.00" height="12.87" fill="#460000"/>
<rect x="57.00" y="276.33" width="14.00" height="12.87" fill="#460000"/>
<rect x="70.00" y="276.33" width="14.00" height="12.87" fill="#390000"/>
<rect x="83.00" y="276.33" width="14.00" height="12.87" fill="#420000"/>
<rect x="96.00" y="276.33" width="14.00" height="12.87" fill="#610000"/>
<rect x="109.00" y="276.33" width="14.00" height="12.87" fill="#580000"/>
<rect x="122.00" y="276.33" width="14.00" height="12.87" fill="#650000"/>
<rect x="135.00" y="276.33" width="14.00" height="12.87" fill="#540000"/>
<rect x="148.00" y="276.33" width="14.00" height="12.87" fill="#610000"/>
<rect x="161.00" y="276.33" width="14.00" height="12.87" fill="#610000"/>
<rect x="174.00" y="276.33" width="14.00" height="12.87" fill="#4f0000"/>
<rect x="187.00" y="276.33" width="14.00" height="12.87" fill="#005100"/>
<rect x="200.00" y="276.33" width="14.00" height="12.87" fill="#004400"/>
<rect x="213.00" y="276.33" width="14.00" height="12.87" fill="#005100"/>
<rect x="226.00" y="276.33" width="14.00" height="12.87" fill="#004800"/>
<rect x="239.00" y="276.33" width="14.00" height="12.87" fill="#003f00"/>
<rect x="252.00" y="276.33" width="14.00" height="12.87" fill="#003c00"/>
<rect x="265.00" y="276.33" width="14.00" height="12.87" fill="#003c00"/>
<rect x="278.00" y="276.33" width="14.00" height="12.87" fill="#004600"/>
<rect x="291.00" y="276.33" width="14.00" height="12.87" fill="#003800"/>
<rect x="304.00" y="276.33" width="14.00" height="12.87" fill="#006200"/>
<rect x="317.00" y="276.33" width="14.00" height="12.87" fill="#006200"/>
<rect x="330.00" y="276.33" width="14.00" height="12.87" fill="#006200"/>
<rect x="343.00" y="276.33" width="14.00" height="12.87" fill="#005d00"/>
<rect x="356.00" y="276.33" width="14.00" height="12.87" fill="#005800"/>
<rect x="18.00" y="288.20" width="14.00" height="12.87" fill="#350000"/>
<rect x="31.00" y="288.20" width="14.00" height="12.87" fill="#460000"/>
<rect x="44.00" y="288.20" width="14.00" height="12.87" fill="#4b0000"/>
<rect x="57.00" y="288.20" width="14.00" height="12.87" fill="#230000"/>
<rect x="70.00" y="288.20" width="14.00" height="12.87" fill="#1f0000"/>
<rect x="83.00" y="288.20" width="14.00" height="12.87" fill="#001e00"/>
<rect x="96.00" y="288.20" width="14.00" height="12.87" fill="#610000"/>
<rect x="109.00" y="288.20" width="14.00" height="12.87" fill="#3e0000"/>
<rect x="122.00" y="288.20" width="14.00" height="12.87" fill="#610000"/>
<rect x="135.00" y="288.20" width="14.00" height="12.87" fill="#6a0000"/>
<rect x="148.00" y="288.20" width="14.00" height="12.87" fill="#420000"/>
<rect x="161.00" y="288.20" width="14.00" height="12.87" fill="#4b0000"/>
<rect x="174.00" y="288.20" width="14.00" height="12.87" fill="#1f0000"/>
<rect x="187.00" y="288.20" width="14.00" height="12.87" fill="#004400"/>
<rect x="200.00" y="288.20" width="14.00" height="12.87" fill="#000900"/>
<rect x="213.00" y="288.20" width="14.00" height="12.87" fill="#001b00"/>
<rect x="226.00" y="288.20" width="14.00" height="12.87" fill="#001600"/>
<rect x="239.00" y="288.20" width="14.00" height="12.87" fill="#000e00"/>
<rect x="252.00" y="288.20" width="14.00" height="12.87" fill="#2c0000"/>
<rect x="265.00" y="288.20" width="14.00" height="12.87" fill="#000e00"/>
<rect x="278.00" y="288.20" width="14.00" height="12.87" fill="#003300"/>
<rect x="291.00" y="288.20" width="14.00" height="12.87" fill="#004100"/>
<rect x="304.00" y="288.20" width="14.00" height="12.87" fill="#004100"/>
<rect x="317.00" y="288.20" width="14.00" height="12.87" fill="#005d00"/>
<rect x="330.00" y="288.20" width="14.00" height="12.87" fill="#00a300"/>
<rect x="343.00" y="288.20" width="14.00" height="12.87" fill="#008200"/>
<rect x="356.00" y="288.20" width="14.00" height="12.87" fill="#008c00"/>
</g>
<text transform="translate(376.1,60.00) scale(0.935,1)" font-size="9.2">232628_at</text>
<text transform="translate(465.0,60.00) scale(0.940,1)" font-size="9.2">NA</text>
<text transform="translate(376.1,72.03) scale(0.935,1)" font-size="9.2">228051_at</text>
<text transform="translate(465.0,72.03) scale(0.940,1)" font-size="9.2">KIAA1244</text>
<text transform="translate(376.1,84.06) scale(0.935,1)" font-size="9.2">217047_s_at</text>
<text transform="translate(465.0,84.06) scale(0.940,1)" font-size="9.2">FAM13A</text>
<text transform="translate(376.1,96.09) scale(0.935,1)" font-size="9.2">202973_x_at</text>
<text transform="translate(465.0,96.09) scale(0.940,1)" font-size="9.2">FAM13A</text>
<text transform="translate(376.1,108.12) scale(0.935,1)" font-size="9.2">229396_at</text>
<text transform="translate(465.0,108.12) scale(0.940,1)" font-size="9.2">OVOL1</text>
<text transform="translate(376.1,120.15) scale(0.935,1)" font-size="9.2">235201_at</text>
<text transform="translate(465.0,120.15) scale(0.940,1)" font-size="9.2">FOXP2</text>
<text transform="translate(376.1,132.18) scale(0.935,1)" font-size="9.2">204784_s_at</text>
<text transform="translate(465.0,132.18) scale(0.940,1)" font-size="9.2">MLF1</text>
<text transform="translate(376.1,144.21) scale(0.935,1)" font-size="9.2">212254_s_at</text>
<text transform="translate(465.0,144.21) scale(0.940,1)" font-size="9.2">DST</text>
<text transform="translate(376.1,156.24) scale(0.935,1)" font-size="9.2">215016_x_at</text>
<text transform="translate(465.0,156.24) scale(0.940,1)" font-size="9.2">DST</text>
<text transform="translate(376.1,168.27) scale(0.935,1)" font-size="9.2">232098_at</text>
<text transform="translate(465.0,168.27) scale(0.940,1)" font-size="9.2">DST</text>
<text transform="translate(376.1,180.30) scale(0.935,1)" font-size="9.2">201798_s_at</text>
<text transform="translate(465.0,180.30) scale(0.940,1)" font-size="9.2">MYOF</text>
<text transform="translate(376.1,192.33) scale(0.935,1)" font-size="9.2">215127_s_at</text>
<text transform="translate(465.0,192.33) scale(0.940,1)" font-size="9.2">RBMS1</text>
<text transform="translate(376.1,204.36) scale(0.935,1)" font-size="9.2">225269_s_at</text>
<text transform="translate(465.0,204.36) scale(0.940,1)" font-size="9.2">RBMS1</text>
<text transform="translate(376.1,216.39) scale(0.935,1)" font-size="9.2">207266_x_at</text>
<text transform="translate(465.0,216.39) scale(0.940,1)" font-size="9.2">RBMS1</text>
<text transform="translate(376.1,228.42) scale(0.935,1)" font-size="9.2">203748_x_at</text>
<text transform="translate(465.0,228.42) scale(0.940,1)" font-size="9.2">RBMS1</text>
<text transform="translate(376.1,240.45) scale(0.935,1)" font-size="9.2">223640_at</text>
<text transform="translate(465.0,240.45) scale(0.940,1)" font-size="9.2">HCST</text>
<text transform="translate(376.1,252.48) scale(0.935,1)" font-size="9.2">206398_s_at</text>
<text transform="translate(465.0,252.48) scale(0.940,1)" font-size="9.2">CD19</text>
<text transform="translate(376.1,264.51) scale(0.935,1)" font-size="9.2">212646_at</text>
<text transform="translate(465.0,264.51) scale(0.940,1)" font-size="9.2">RFTN1</text>
<text transform="translate(376.1,276.54) scale(0.935,1)" font-size="9.2">209306_s_at</text>
<text transform="translate(465.0,276.54) scale(0.940,1)" font-size="9.2">SWAP70</text>
<text transform="translate(376.1,288.57) scale(0.935,1)" font-size="9.2">227646_at</text>
<text transform="translate(465.0,288.57) scale(0.940,1)" font-size="9.2">EBF1</text>
<text transform="translate(376.1,300.60) scale(0.935,1)" font-size="9.2">225105_at</text>
<text transform="translate(465.0,300.60) scale(0.940,1)" font-size="9.2">C12orf75</text>
<text transform="translate(24.40,310.8) rotate(-90) scale(0.968,1)" text-anchor="end" font-size="8.6">RE528_HuBM_4</text>
<text transform="translate(37.40,310.8) rotate(-90) scale(0.968,1)" text-anchor="end" font-size="8.6">RE528_HuBM_15</text>
<text transform="translate(50.40,310.8) rotate(-90) scale(0.968,1)" text-anchor="end" font-size="8.6">RE528_HuBM_7</text>
<text transform="translate(63.40,310.8) rotate(-90) scale(0.968,1)" text-anchor="end" font-size="8.6">RE528_HuBM_19</text>
<text transform="translate(76.40,310.8) rotate(-90) scale(0.968,1)" text-anchor="end" font-size="8.6">RE528_HuBM_23</text>
<text transform="translate(89.40,310.8) rotate(-90) scale(0.968,1)" text-anchor="end" font-size="8.6">RE528_HuBM_11</text>
<text transform="translate(102.40,310.8) rotate(-90) scale(0.968,1)" text-anchor="end" font-size="8.6">RE528_HuBM_5</text>
<text transform="translate(115.40,310.8) rotate(-90) scale(0.968,1)" text-anchor="end" font-size="8.6">RE528_HuBM_12</text>
<text transform="translate(128.40,310.8) rotate(-90) scale(0.968,1)" text-anchor="end" font-size="8.6">RE528_HuBM_20</text>
<text transform="translate(141.40,310.8) rotate(-90) scale(0.968,1)" text-anchor="end" font-size="8.6">RE528_HuBM_33</text>
<text transform="translate(154.40,310.8) rotate(-90) scale(0.968,1)" text-anchor="end" font-size="8.6">RE528_HuBM_16</text>
<text transform="translate(167.40,310.8) rotate(-90) scale(0.968,1)" text-anchor="end" font-size="8.6">RE528_HuBM_24</text>
<text transform="translate(180.40,310.8) rotate(-90) scale(0.968,1)" text-anchor="end" font-size="8.6">RE528_HuBM_8</text>
<text transform="translate(193.40,310.8) rotate(-90) scale(0.968,1)" text-anchor="end" font-size="8.6">RE528_HuBM_3</text>
<text transform="translate(206.40,310.8) rotate(-90) scale(0.968,1)" text-anchor="end" font-size="8.6">RE528_HuBM_6</text>
<text transform="translate(219.40,310.8) rotate(-90) scale(0.968,1)" text-anchor="end" font-size="8.6">RE528_HuBM_9</text>
<text transform="translate(232.40,310.8) rotate(-90) scale(0.968,1)" text-anchor="end" font-size="8.6">RE528_HuBM_13</text>
<text transform="translate(245.40,310.8) rotate(-90) scale(0.968,1)" text-anchor="end" font-size="8.6">RE528_HuBM_17</text>
<text transform="translate(258.40,310.8) rotate(-90) scale(0.968,1)" text-anchor="end" font-size="8.6">RE528_HuBM_21</text>
<text transform="translate(271.40,310.8) rotate(-90) scale(0.968,1)" text-anchor="end" font-size="8.6">RE528_HuBM_28</text>
<text transform="translate(284.40,310.8) rotate(-90) scale(0.968,1)" text-anchor="end" font-size="8.6">RE528_HuBM_32</text>
<text transform="translate(297.40,310.8) rotate(-90) scale(0.968,1)" text-anchor="end" font-size="8.6">RE528_HuBM_36</text>
<text transform="translate(310.40,310.8) rotate(-90) scale(0.968,1)" text-anchor="end" font-size="8.6">RE528_HuBM_10</text>
<text transform="translate(323.40,310.8) rotate(-90) scale(0.968,1)" text-anchor="end" font-size="8.6">RE528_HuBM_14</text>
<text transform="translate(336.40,310.8) rotate(-90) scale(0.968,1)" text-anchor="end" font-size="8.6">RE528_HuBM_27</text>
<text transform="translate(349.40,310.8) rotate(-90) scale(0.968,1)" text-anchor="end" font-size="8.6">RE528_HuBM_31</text>
<text transform="translate(362.40,310.8) rotate(-90) scale(0.968,1)" text-anchor="end" font-size="8.6">RE528_HuBM_35</text>
<text transform="translate(434.6,333.4) scale(0.977,1)" font-size="11.7">Color Key</text>
<rect x="414.8" y="338.3" width="92.6" height="26.6" fill="url(#kg)" stroke="#000" stroke-width="1"/>
<rect x="420.05" y="365.4" width="0.9" height="4.3" fill="#111"/>
<text x="420.20" y="382.8" font-size="8.8" text-anchor="middle">-2</text>
<rect x="435.95" y="365.4" width="0.9" height="4.3" fill="#111"/>
<text x="436.10" y="382.8" font-size="8.8" text-anchor="middle">-1</text>
<rect x="451.95" y="365.4" width="0.9" height="4.3" fill="#111"/>
<text x="452.40" y="382.8" font-size="8.8" text-anchor="middle">0</text>
<rect x="468.15" y="365.4" width="0.9" height="4.3" fill="#111"/>
<text x="468.60" y="382.8" font-size="8.8" text-anchor="middle">1</text>
<rect x="484.35" y="365.4" width="0.9" height="4.3" fill="#111"/>
<text x="484.80" y="382.8" font-size="8.8" text-anchor="middle">2</text>
<rect x="500.55" y="365.4" width="0.9" height="4.3" fill="#111"/>
<text x="501.00" y="382.8" font-size="8.8" text-anchor="middle">3</text>
<text transform="translate(428.6,397.1) scale(0.985,1)" font-size="11.7">Row Z-score</text>
<text transform="translate(11.9,437.7) scale(0.88,1)" font-size="15.7">F</text>
<rect x="16.50" y="447.50" width="338.72" height="281.36" fill="#9a9a9a"/>
<rect x="17.35" y="448.35" width="27.26" height="22.48" fill="#f67f51"/>
<rect x="45.51" y="448.35" width="27.26" height="22.48" fill="#8fbdda"/>
<rect x="73.67" y="448.35" width="27.26" height="22.48" fill="#4575b4"/>
<rect x="101.83" y="448.35" width="27.26" height="22.48" fill="#4575b4"/>
<rect x="129.99" y="448.35" width="27.26" height="22.48" fill="#4575b4"/>
<rect x="158.15" y="448.35" width="27.26" height="22.48" fill="#4575b4"/>
<rect x="186.31" y="448.35" width="27.26" height="22.48" fill="#4575b4"/>
<rect x="214.47" y="448.35" width="27.26" height="22.48" fill="#4575b4"/>
<rect x="242.63" y="448.35" width="27.26" height="22.48" fill="#4575b4"/>
<rect x="270.79" y="448.35" width="27.26" height="22.48" fill="#4575b4"/>
<rect x="298.95" y="448.35" width="27.26" height="22.48" fill="#4575b4"/>
<rect x="327.11" y="448.35" width="27.26" height="22.48" fill="#4575b4"/>
<rect x="17.35" y="471.73" width="27.26" height="22.48" fill="#8fbdda"/>
<rect x="45.51" y="471.73" width="27.26" height="22.48" fill="#f06e48"/>
<rect x="73.67" y="471.73" width="27.26" height="22.48" fill="#4575b4"/>
<rect x="101.83" y="471.73" width="27.26" height="22.48" fill="#4575b4"/>
<rect x="129.99" y="471.73" width="27.26" height="22.48" fill="#4575b4"/>
<rect x="158.15" y="471.73" width="27.26" height="22.48" fill="#4575b4"/>
<rect x="186.31" y="471.73" width="27.26" height="22.48" fill="#4575b4"/>
<rect x="214.47" y="471.73" width="27.26" height="22.48" fill="#4575b4"/>
<rect x="242.63" y="471.73" width="27.26" height="22.48" fill="#4575b4"/>
<rect x="270.79" y="471.73" width="27.26" height="22.48" fill="#4575b4"/>
<rect x="298.95" y="471.73" width="27.26" height="22.48" fill="#4575b4"/>
<rect x="327.11" y="471.73" width="27.26" height="22.48" fill="#4575b4"/>
<rect x="17.35" y="495.11" width="27.26" height="22.48" fill="#4575b4"/>
<rect x="45.51" y="495.11" width="27.26" height="22.48" fill="#4575b4"/>
<rect x="73.67" y="495.11" width="27.26" height="22.48" fill="#f4794e"/>
<rect x="101.83" y="495.11" width="27.26" height="22.48" fill="#e8f6ea"/>
<rect x="129.99" y="495.11" width="27.26" height="22.48" fill="#4575b4"/>
<rect x="158.15" y="495.11" width="27.26" height="22.48" fill="#4575b4"/>
<rect x="186.31" y="495.11" width="27.26" height="22.48" fill="#4575b4"/>
<rect x="214.47" y="495.11" width="27.26" height="22.48" fill="#4575b4"/>
<rect x="242.63" y="495.11" width="27.26" height="22.48" fill="#4575b4"/>
<rect x="270.79" y="495.11" width="27.26" height="22.48" fill="#4575b4"/>
<rect x="298.95" y="495.11" width="27.26" height="22.48" fill="#4575b4"/>
<rect x="327.11" y="495.11" width="27.26" height="22.48" fill="#4575b4"/>
<rect x="17.35" y="518.49" width="27.26" height="22.48" fill="#4575b4"/>
<rect x="45.51" y="518.49" width="27.26" height="22.48" fill="#4575b4"/>
<rect x="73.67" y="518.49" width="27.26" height="22.48" fill="#e8f6ea"/>
<rect x="101.83" y="518.49" width="27.26" height="22.48" fill="#e95d3f"/>
<rect x="129.99" y="518.49" width="27.26" height="22.48" fill="#4575b4"/>
<rect x="158.15" y="518.49" width="27.26" height="22.48" fill="#4575b4"/>
<rect x="186.31" y="518.49" width="27.26" height="22.48" fill="#4575b4"/>
<rect x="214.47" y="518.49" width="27.26" height="22.48" fill="#4575b4"/>
<rect x="242.63" y="518.49" width="27.26" height="22.48" fill="#4575b4"/>
<rect x="270.79" y="518.49" width="27.26" height="22.48" fill="#4575b4"/>
<rect x="298.95" y="518.49" width="27.26" height="22.48" fill="#4575b4"/>
<rect x="327.11" y="518.49" width="27.26" height="22.48" fill="#4575b4"/>
<rect x="17.35" y="541.87" width="27.26" height="22.48" fill="#4575b4"/>
<rect x="45.51" y="541.87" width="27.26" height="22.48" fill="#4575b4"/>
<rect x="73.67" y="541.87" width="27.26" height="22.48" fill="#4575b4"/>
<rect x="101.83" y="541.87" width="27.26" height="22.48" fill="#4575b4"/>
<rect x="129.99" y="541.87" width="27.26" height="22.48" fill="#eb6342"/>
<rect x="158.15" y="541.87" width="27.26" height="22.48" fill="#edf8e0"/>
<rect x="186.31" y="541.87" width="27.26" height="22.48" fill="#4575b4"/>
<rect x="214.47" y="541.87" width="27.26" height="22.48" fill="#4575b4"/>
<rect x="242.63" y="541.87" width="27.26" height="22.48" fill="#4575b4"/>
<rect x="270.79" y="541.87" width="27.26" height="22.48" fill="#4575b4"/>
<rect x="298.95" y="541.87" width="27.26" height="22.48" fill="#4575b4"/>
<rect x="327.11" y="541.87" width="27.26" height="22.48" fill="#4575b4"/>
<rect x="17.35" y="565.25" width="27.26" height="22.48" fill="#4575b4"/>
<rect x="45.51" y="565.25" width="27.26" height="22.48" fill="#4575b4"/>
<rect x="73.67" y="565.25" width="27.26" height="22.48" fill="#4575b4"/>
<rect x="101.83" y="565.25" width="27.26" height="22.48" fill="#4575b4"/>
<rect x="129.99" y="565.25" width="27.26" height="22.48" fill="#edf8e0"/>
<rect x="158.15" y="565.25" width="27.26" height="22.48" fill="#d73027"/>
<rect x="186.31" y="565.25" width="27.26" height="22.48" fill="#4575b4"/>
<rect x="214.47" y="565.25" width="27.26" height="22.48" fill="#4575b4"/>
<rect x="242.63" y="565.25" width="27.26" height="22.48" fill="#4575b4"/>
<rect x="270.79" y="565.25" width="27.26" height="22.48" fill="#4575b4"/>
<rect x="298.95" y="565.25" width="27.26" height="22.48" fill="#4575b4"/>
<rect x="327.11" y="565.25" width="27.26" height="22.48" fill="#4575b4"/>
<rect x="17.35" y="588.63" width="27.26" height="22.48" fill="#4575b4"/>
<rect x="45.51" y="588.63" width="27.26" height="22.48" fill="#4575b4"/>
<rect x="73.67" y="588.63" width="27.26" height="22.48" fill="#4575b4"/>
<rect x="101.83" y="588.63" width="27.26" height="22.48" fill="#4575b4"/>
<rect x="129.99" y="588.63" width="27.26" height="22.48" fill="#4575b4"/>
<rect x="158.15" y="588.63" width="27.26" height="22.48" fill="#4575b4"/>
<rect x="186.31" y="588.63" width="27.26" height="22.48" fill="#de4130"/>
<rect x="214.47" y="588.63" width="27.26" height="22.48" fill="#eff9dc"/>
<rect x="242.63" y="588.63" width="27.26" height="22.48" fill="#4575b4"/>
<rect x="270.79" y="588.63" width="27.26" height="22.48" fill="#4575b4"/>
<rect x="298.95" y="588.63" width="27.26" height="22.48" fill="#4575b4"/>
<rect x="327.11" y="588.63" width="27.26" height="22.48" fill="#4575b4"/>
<rect x="17.35" y="612.01" width="27.26" height="22.48" fill="#4575b4"/>
<rect x="45.51" y="612.01" width="27.26" height="22.48" fill="#4575b4"/>
<rect x="73.67" y="612.01" width="27.26" height="22.48" fill="#4575b4"/>
<rect x="101.83" y="612.01" width="27.26" height="22.48" fill="#4575b4"/>
<rect x="129.99" y="612.01" width="27.26" height="22.48" fill="#4575b4"/>
<rect x="158.15" y="612.01" width="27.26" height="22.48" fill="#4575b4"/>
<rect x="186.31" y="612.01" width="27.26" height="22.48" fill="#eff9dc"/>
<rect x="214.47" y="612.01" width="27.26" height="22.48" fill="#db3b2d"/>
<rect x="242.63" y="612.01" width="27.26" height="22.48" fill="#4575b4"/>
<rect x="270.79" y="612.01" width="27.26" height="22.48" fill="#4575b4"/>
<rect x="298.95" y="612.01" width="27.26" height="22.48" fill="#4575b4"/>
<rect x="327.11" y="612.01" width="27.26" height="22.48" fill="#4575b4"/>
<rect x="17.35" y="635.39" width="27.26" height="22.48" fill="#4575b4"/>
<rect x="45.51" y="635.39" width="27.26" height="22.48" fill="#4575b4"/>
<rect x="73.67" y="635.39" width="27.26" height="22.48" fill="#4575b4"/>
<rect x="101.83" y="635.39" width="27.26" height="22.48" fill="#4575b4"/>
<rect x="129.99" y="635.39" width="27.26" height="22.48" fill="#4575b4"/>
<rect x="158.15" y="635.39" width="27.26" height="22.48" fill="#4575b4"/>
<rect x="186.31" y="635.39" width="27.26" height="22.48" fill="#4575b4"/>
<rect x="214.47" y="635.39" width="27.26" height="22.48" fill="#4575b4"/>
<rect x="242.63" y="635.39" width="27.26" height="22.48" fill="#e7573c"/>
<rect x="270.79" y="635.39" width="27.26" height="22.48" fill="#eff9dc"/>
<rect x="298.95" y="635.39" width="27.26" height="22.48" fill="#4575b4"/>
<rect x="327.11" y="635.39" width="27.26" height="22.48" fill="#4575b4"/>
<rect x="17.35" y="658.77" width="27.26" height="22.48" fill="#4575b4"/>
<rect x="45.51" y="658.77" width="27.26" height="22.48" fill="#4575b4"/>
<rect x="73.67" y="658.77" width="27.26" height="22.48" fill="#4575b4"/>
<rect x="101.83" y="658.77" width="27.26" height="22.48" fill="#4575b4"/>
<rect x="129.99" y="658.77" width="27.26" height="22.48" fill="#4575b4"/>
<rect x="158.15" y="658.77" width="27.26" height="22.48" fill="#4575b4"/>
<rect x="186.31" y="658.77" width="27.26" height="22.48" fill="#4575b4"/>
<rect x="214.47" y="658.77" width="27.26" height="22.48" fill="#4575b4"/>
<rect x="242.63" y="658.77" width="27.26" height="22.48" fill="#eff9dc"/>
<rect x="270.79" y="658.77" width="27.26" height="22.48" fill="#e45239"/>
<rect x="298.95" y="658.77" width="27.26" height="22.48" fill="#4575b4"/>
<rect x="327.11" y="658.77" width="27.26" height="22.48" fill="#4575b4"/>
<rect x="17.35" y="682.15" width="27.26" height="22.48" fill="#4575b4"/>
<rect x="45.51" y="682.15" width="27.26" height="22.48" fill="#4575b4"/>
<rect x="73.67" y="682.15" width="27.26" height="22.48" fill="#4575b4"/>
<rect x="101.83" y="682.15" width="27.26" height="22.48" fill="#4575b4"/>
<rect x="129.99" y="682.15" width="27.26" height="22.48" fill="#4575b4"/>
<rect x="158.15" y="682.15" width="27.26" height="22.48" fill="#4575b4"/>
<rect x="186.31" y="682.15" width="27.26" height="22.48" fill="#4575b4"/>
<rect x="214.47" y="682.15" width="27.26" height="22.48" fill="#4575b4"/>
<rect x="242.63" y="682.15" width="27.26" height="22.48" fill="#4575b4"/>
<rect x="270.79" y="682.15" width="27.26" height="22.48" fill="#4575b4"/>
<rect x="298.95" y="682.15" width="27.26" height="22.48" fill="#f2744b"/>
<rect x="327.11" y="682.15" width="27.26" height="22.48" fill="#a7cde3"/>
<rect x="17.35" y="705.53" width="27.26" height="22.48" fill="#4575b4"/>
<rect x="45.51" y="705.53" width="27.26" height="22.48" fill="#4575b4"/>
<rect x="73.67" y="705.53" width="27.26" height="22.48" fill="#4575b4"/>
<rect x="101.83" y="705.53" width="27.26" height="22.48" fill="#4575b4"/>
<rect x="129.99" y="705.53" width="27.26" height="22.48" fill="#4575b4"/>
<rect x="158.15" y="705.53" width="27.26" height="22.48" fill="#4575b4"/>
<rect x="186.31" y="705.53" width="27.26" height="22.48" fill="#4575b4"/>
<rect x="214.47" y="705.53" width="27.26" height="22.48" fill="#4575b4"/>
<rect x="242.63" y="705.53" width="27.26" height="22.48" fill="#4575b4"/>
<rect x="270.79" y="705.53" width="27.26" height="22.48" fill="#4575b4"/>
<rect x="298.95" y="705.53" width="27.26" height="22.48" fill="#a7cde3"/>
<rect x="327.11" y="705.53" width="27.26" height="22.48" fill="#e04733"/>
<text transform="translate(30.68,462.54) scale(0.88,1)" text-anchor="middle" font-size="9.8">283</text>
<text transform="translate(58.84,462.54) scale(0.88,1)" text-anchor="middle" font-size="9.8">2</text>
<text transform="translate(87.00,462.54) scale(0.88,1)" text-anchor="middle" font-size="9.8">0</text>
<text transform="translate(115.16,462.54) scale(0.88,1)" text-anchor="middle" font-size="9.8">0</text>
<text transform="translate(143.32,462.54) scale(0.88,1)" text-anchor="middle" font-size="9.8">0</text>
<text transform="translate(171.48,462.54) scale(0.88,1)" text-anchor="middle" font-size="9.8">0</text>
<text transform="translate(199.64,462.54) scale(0.88,1)" text-anchor="middle" font-size="9.8">0</text>
<text transform="translate(227.80,462.54) scale(0.88,1)" text-anchor="middle" font-size="9.8">0</text>
<text transform="translate(255.96,462.54) scale(0.88,1)" text-anchor="middle" font-size="9.8">0</text>
<text transform="translate(284.12,462.54) scale(0.88,1)" text-anchor="middle" font-size="9.8">0</text>
<text transform="translate(312.28,462.54) scale(0.88,1)" text-anchor="middle" font-size="9.8">0</text>
<text transform="translate(340.44,462.54) scale(0.88,1)" text-anchor="middle" font-size="9.8">0</text>
<text transform="translate(30.68,485.92) scale(0.88,1)" text-anchor="middle" font-size="9.8">2</text>
<text transform="translate(58.84,485.92) scale(0.88,1)" text-anchor="middle" font-size="9.8">342</text>
<text transform="translate(87.00,485.92) scale(0.88,1)" text-anchor="middle" font-size="9.8">0</text>
<text transform="translate(115.16,485.92) scale(0.88,1)" text-anchor="middle" font-size="9.8">0</text>
<text transform="translate(143.32,485.92) scale(0.88,1)" text-anchor="middle" font-size="9.8">0</text>
<text transform="translate(171.48,485.92) scale(0.88,1)" text-anchor="middle" font-size="9.8">0</text>
<text transform="translate(199.64,485.92) scale(0.88,1)" text-anchor="middle" font-size="9.8">0</text>
<text transform="translate(227.80,485.92) scale(0.88,1)" text-anchor="middle" font-size="9.8">0</text>
<text transform="translate(255.96,485.92) scale(0.88,1)" text-anchor="middle" font-size="9.8">0</text>
<text transform="translate(284.12,485.92) scale(0.88,1)" text-anchor="middle" font-size="9.8">0</text>
<text transform="translate(312.28,485.92) scale(0.88,1)" text-anchor="middle" font-size="9.8">0</text>
<text transform="translate(340.44,485.92) scale(0.88,1)" text-anchor="middle" font-size="9.8">0</text>
<text transform="translate(30.68,509.30) scale(0.88,1)" text-anchor="middle" font-size="9.8">0</text>
<text transform="translate(58.84,509.30) scale(0.88,1)" text-anchor="middle" font-size="9.8">0</text>
<text transform="translate(87.00,509.30) scale(0.88,1)" text-anchor="middle" font-size="9.8">304</text>
<text transform="translate(115.16,509.30) scale(0.88,1)" text-anchor="middle" font-size="9.8">11</text>
<text transform="translate(143.32,509.30) scale(0.88,1)" text-anchor="middle" font-size="9.8">0</text>
<text transform="translate(171.48,509.30) scale(0.88,1)" text-anchor="middle" font-size="9.8">0</text>
<text transform="translate(199.64,509.30) scale(0.88,1)" text-anchor="middle" font-size="9.8">0</text>
<text transform="translate(227.80,509.30) scale(0.88,1)" text-anchor="middle" font-size="9.8">0</text>
<text transform="translate(255.96,509.30) scale(0.88,1)" text-anchor="middle" font-size="9.8">0</text>
<text transform="translate(284.12,509.30) scale(0.88,1)" text-anchor="middle" font-size="9.8">0</text>
<text transform="translate(312.28,509.30) scale(0.88,1)" text-anchor="middle" font-size="9.8">0</text>
<text transform="translate(340.44,509.30) scale(0.88,1)" text-anchor="middle" font-size="9.8">0</text>
<text transform="translate(30.68,532.68) scale(0.88,1)" text-anchor="middle" font-size="9.8">0</text>
<text transform="translate(58.84,532.68) scale(0.88,1)" text-anchor="middle" font-size="9.8">0</text>
<text transform="translate(87.00,532.68) scale(0.88,1)" text-anchor="middle" font-size="9.8">11</text>
<text transform="translate(115.16,532.68) scale(0.88,1)" text-anchor="middle" font-size="9.8">401</text>
<text transform="translate(143.32,532.68) scale(0.88,1)" text-anchor="middle" font-size="9.8">0</text>
<text transform="translate(171.48,532.68) scale(0.88,1)" text-anchor="middle" font-size="9.8">0</text>
<text transform="translate(199.64,532.68) scale(0.88,1)" text-anchor="middle" font-size="9.8">0</text>
<text transform="translate(227.80,532.68) scale(0.88,1)" text-anchor="middle" font-size="9.8">0</text>
<text transform="translate(255.96,532.68) scale(0.88,1)" text-anchor="middle" font-size="9.8">0</text>
<text transform="translate(284.12,532.68) scale(0.88,1)" text-anchor="middle" font-size="9.8">0</text>
<text transform="translate(312.28,532.68) scale(0.88,1)" text-anchor="middle" font-size="9.8">0</text>
<text transform="translate(340.44,532.68) scale(0.88,1)" text-anchor="middle" font-size="9.8">0</text>
<text transform="translate(30.68,556.06) scale(0.88,1)" text-anchor="middle" font-size="9.8">0</text>
<text transform="translate(58.84,556.06) scale(0.88,1)" text-anchor="middle" font-size="9.8">0</text>
<text transform="translate(87.00,556.06) scale(0.88,1)" text-anchor="middle" font-size="9.8">0</text>
<text transform="translate(115.16,556.06) scale(0.88,1)" text-anchor="middle" font-size="9.8">0</text>
<text transform="translate(143.32,556.06) scale(0.88,1)" text-anchor="middle" font-size="9.8">383</text>
<text transform="translate(171.48,556.06) scale(0.88,1)" text-anchor="middle" font-size="9.8">13</text>
<text transform="translate(199.64,556.06) scale(0.88,1)" text-anchor="middle" font-size="9.8">0</text>
<text transform="translate(227.80,556.06) scale(0.88,1)" text-anchor="middle" font-size="9.8">0</text>
<text transform="translate(255.96,556.06) scale(0.88,1)" text-anchor="middle" font-size="9.8">0</text>
<text transform="translate(284.12,556.06) scale(0.88,1)" text-anchor="middle" font-size="9.8">0</text>
<text transform="translate(312.28,556.06) scale(0.88,1)" text-anchor="middle" font-size="9.8">0</text>
<text transform="translate(340.44,556.06) scale(0.88,1)" text-anchor="middle" font-size="9.8">0</text>
<text transform="translate(30.68,579.44) scale(0.88,1)" text-anchor="middle" font-size="9.8">0</text>
<text transform="translate(58.84,579.44) scale(0.88,1)" text-anchor="middle" font-size="9.8">0</text>
<text transform="translate(87.00,579.44) scale(0.88,1)" text-anchor="middle" font-size="9.8">0</text>
<text transform="translate(115.16,579.44) scale(0.88,1)" text-anchor="middle" font-size="9.8">0</text>
<text transform="translate(143.32,579.44) scale(0.88,1)" text-anchor="middle" font-size="9.8">13</text>
<text transform="translate(171.48,579.44) scale(0.88,1)" text-anchor="middle" font-size="9.8">718</text>
<text transform="translate(199.64,579.44) scale(0.88,1)" text-anchor="middle" font-size="9.8">0</text>
<text transform="translate(227.80,579.44) scale(0.88,1)" text-anchor="middle" font-size="9.8">0</text>
<text transform="translate(255.96,579.44) scale(0.88,1)" text-anchor="middle" font-size="9.8">0</text>
<text transform="translate(284.12,579.44) scale(0.88,1)" text-anchor="middle" font-size="9.8">0</text>
<text transform="translate(312.28,579.44) scale(0.88,1)" text-anchor="middle" font-size="9.8">0</text>
<text transform="translate(340.44,579.44) scale(0.88,1)" text-anchor="middle" font-size="9.8">0</text>
<text transform="translate(30.68,602.82) scale(0.88,1)" text-anchor="middle" font-size="9.8">0</text>
<text transform="translate(58.84,602.82) scale(0.88,1)" text-anchor="middle" font-size="9.8">0</text>
<text transform="translate(87.00,602.82) scale(0.88,1)" text-anchor="middle" font-size="9.8">0</text>
<text transform="translate(115.16,602.82) scale(0.88,1)" text-anchor="middle" font-size="9.8">0</text>
<text transform="translate(143.32,602.82) scale(0.88,1)" text-anchor="middle" font-size="9.8">0</text>
<text transform="translate(171.48,602.82) scale(0.88,1)" text-anchor="middle" font-size="9.8">0</text>
<text transform="translate(199.64,602.82) scale(0.88,1)" text-anchor="middle" font-size="9.8">554</text>
<text transform="translate(227.80,602.82) scale(0.88,1)" text-anchor="middle" font-size="9.8">14</text>
<text transform="translate(255.96,602.82) scale(0.88,1)" text-anchor="middle" font-size="9.8">0</text>
<text transform="translate(284.12,602.82) scale(0.88,1)" text-anchor="middle" font-size="9.8">0</text>
<text transform="translate(312.28,602.82) scale(0.88,1)" text-anchor="middle" font-size="9.8">0</text>
<text transform="translate(340.44,602.82) scale(0.88,1)" text-anchor="middle" font-size="9.8">0</text>
<text transform="translate(30.68,626.20) scale(0.88,1)" text-anchor="middle" font-size="9.8">0</text>
<text transform="translate(58.84,626.20) scale(0.88,1)" text-anchor="middle" font-size="9.8">0</text>
<text transform="translate(87.00,626.20) scale(0.88,1)" text-anchor="middle" font-size="9.8">0</text>
<text transform="translate(115.16,626.20) scale(0.88,1)" text-anchor="middle" font-size="9.8">0</text>
<text transform="translate(143.32,626.20) scale(0.88,1)" text-anchor="middle" font-size="9.8">0</text>
<text transform="translate(171.48,626.20) scale(0.88,1)" text-anchor="middle" font-size="9.8">0</text>
<text transform="translate(199.64,626.20) scale(0.88,1)" text-anchor="middle" font-size="9.8">14</text>
<text transform="translate(227.80,626.20) scale(0.88,1)" text-anchor="middle" font-size="9.8">620</text>
<text transform="translate(255.96,626.20) scale(0.88,1)" text-anchor="middle" font-size="9.8">0</text>
<text transform="translate(284.12,626.20) scale(0.88,1)" text-anchor="middle" font-size="9.8">0</text>
<text transform="translate(312.28,626.20) scale(0.88,1)" text-anchor="middle" font-size="9.8">0</text>
<text transform="translate(340.44,626.20) scale(0.88,1)" text-anchor="middle" font-size="9.8">0</text>
<text transform="translate(30.68,649.58) scale(0.88,1)" text-anchor="middle" font-size="9.8">0</text>
<text transform="translate(58.84,649.58) scale(0.88,1)" text-anchor="middle" font-size="9.8">0</text>
<text transform="translate(87.00,649.58) scale(0.88,1)" text-anchor="middle" font-size="9.8">0</text>
<text transform="translate(115.16,649.58) scale(0.88,1)" text-anchor="middle" font-size="9.8">0</text>
<text transform="translate(143.32,649.58) scale(0.88,1)" text-anchor="middle" font-size="9.8">0</text>
<text transform="translate(171.48,649.58) scale(0.88,1)" text-anchor="middle" font-size="9.8">0</text>
<text transform="translate(199.64,649.58) scale(0.88,1)" text-anchor="middle" font-size="9.8">0</text>
<text transform="translate(227.80,649.58) scale(0.88,1)" text-anchor="middle" font-size="9.8">0</text>
<text transform="translate(255.96,649.58) scale(0.88,1)" text-anchor="middle" font-size="9.8">427</text>
<text transform="translate(284.12,649.58) scale(0.88,1)" text-anchor="middle" font-size="9.8">14</text>
<text transform="translate(312.28,649.58) scale(0.88,1)" text-anchor="middle" font-size="9.8">0</text>
<text transform="translate(340.44,649.58) scale(0.88,1)" text-anchor="middle" font-size="9.8">0</text>
<text transform="translate(30.68,672.96) scale(0.88,1)" text-anchor="middle" font-size="9.8">0</text>
<text transform="translate(58.84,672.96) scale(0.88,1)" text-anchor="middle" font-size="9.8">0</text>
<text transform="translate(87.00,672.96) scale(0.88,1)" text-anchor="middle" font-size="9.8">0</text>
<text transform="translate(115.16,672.96) scale(0.88,1)" text-anchor="middle" font-size="9.8">0</text>
<text transform="translate(143.32,672.96) scale(0.88,1)" text-anchor="middle" font-size="9.8">0</text>
<text transform="translate(171.48,672.96) scale(0.88,1)" text-anchor="middle" font-size="9.8">0</text>
<text transform="translate(199.64,672.96) scale(0.88,1)" text-anchor="middle" font-size="9.8">0</text>
<text transform="translate(227.80,672.96) scale(0.88,1)" text-anchor="middle" font-size="9.8">0</text>
<text transform="translate(255.96,672.96) scale(0.88,1)" text-anchor="middle" font-size="9.8">14</text>
<text transform="translate(284.12,672.96) scale(0.88,1)" text-anchor="middle" font-size="9.8">471</text>
<text transform="translate(312.28,672.96) scale(0.88,1)" text-anchor="middle" font-size="9.8">0</text>
<text transform="translate(340.44,672.96) scale(0.88,1)" text-anchor="middle" font-size="9.8">0</text>
<text transform="translate(30.68,696.34) scale(0.88,1)" text-anchor="middle" font-size="9.8">0</text>
<text transform="translate(58.84,696.34) scale(0.88,1)" text-anchor="middle" font-size="9.8">0</text>
<text transform="translate(87.00,696.34) scale(0.88,1)" text-anchor="middle" font-size="9.8">0</text>
<text transform="translate(115.16,696.34) scale(0.88,1)" text-anchor="middle" font-size="9.8">0</text>
<text transform="translate(143.32,696.34) scale(0.88,1)" text-anchor="middle" font-size="9.8">0</text>
<text transform="translate(171.48,696.34) scale(0.88,1)" text-anchor="middle" font-size="9.8">0</text>
<text transform="translate(199.64,696.34) scale(0.88,1)" text-anchor="middle" font-size="9.8">0</text>
<text transform="translate(227.80,696.34) scale(0.88,1)" text-anchor="middle" font-size="9.8">0</text>
<text transform="translate(255.96,696.34) scale(0.88,1)" text-anchor="middle" font-size="9.8">0</text>
<text transform="translate(284.12,696.34) scale(0.88,1)" text-anchor="middle" font-size="9.8">0</text>
<text transform="translate(312.28,696.34) scale(0.88,1)" text-anchor="middle" font-size="9.8">323</text>
<text transform="translate(340.44,696.34) scale(0.88,1)" text-anchor="middle" font-size="9.8">3</text>
<text transform="translate(30.68,719.72) scale(0.88,1)" text-anchor="middle" font-size="9.8">0</text>
<text transform="translate(58.84,719.72) scale(0.88,1)" text-anchor="middle" font-size="9.8">0</text>
<text transform="translate(87.00,719.72) scale(0.88,1)" text-anchor="middle" font-size="9.8">0</text>
<text transform="translate(115.16,719.72) scale(0.88,1)" text-anchor="middle" font-size="9.8">0</text>
<text transform="translate(143.32,719.72) scale(0.88,1)" text-anchor="middle" font-size="9.8">0</text>
<text transform="translate(171.48,719.72) scale(0.88,1)" text-anchor="middle" font-size="9.8">0</text>
<text transform="translate(199.64,719.72) scale(0.88,1)" text-anchor="middle" font-size="9.8">0</text>
<text transform="translate(227.80,719.72) scale(0.88,1)" text-anchor="middle" font-size="9.8">0</text>
<text transform="translate(255.96,719.72) scale(0.88,1)" text-anchor="middle" font-size="9.8">0</text>
<text transform="translate(284.12,719.72) scale(0.88,1)" text-anchor="middle" font-size="9.8">0</text>
<text transform="translate(312.28,719.72) scale(0.88,1)" text-anchor="middle" font-size="9.8">3</text>
<text transform="translate(340.44,719.72) scale(0.88,1)" text-anchor="middle" font-size="9.8">518</text>
<text transform="translate(359.6,462.59) scale(0.953,1)" font-size="9.4">donor1_CD19-</text>
<text transform="translate(359.6,485.97) scale(0.953,1)" font-size="9.4">donor1_CD19+</text>
<text transform="translate(359.6,509.35) scale(0.953,1)" font-size="9.4">donor2_CD19-</text>
<text transform="translate(359.6,532.73) scale(0.953,1)" font-size="9.4">donor2_CD19+</text>
<text transform="translate(359.6,556.11) scale(0.953,1)" font-size="9.4">donor3_CD19-</text>
<text transform="translate(359.6,579.49) scale(0.953,1)" font-size="9.4">donor3_CD19+</text>
<text transform="translate(359.6,602.87) scale(0.953,1)" font-size="9.4">donor4_CD19-</text>
<text transform="translate(359.6,626.25) scale(0.953,1)" font-size="9.4">donor4_CD19+</text>
<text transform="translate(359.6,649.63) scale(0.953,1)" font-size="9.4">donor5_CD19-</text>
<text transform="translate(359.6,673.01) scale(0.953,1)" font-size="9.4">donor5_CD19+</text>
<text transform="translate(359.6,696.39) scale(0.953,1)" font-size="9.4">donor6_CD19-</text>
<text transform="translate(359.6,719.77) scale(0.953,1)" font-size="9.4">donor6_CD19+</text>
<text transform="translate(27.58,733.6) rotate(90) scale(0.953,1)" font-size="9.4">donor1_CD19-</text>
<text transform="translate(55.74,733.6) rotate(90) scale(0.953,1)" font-size="9.4">donor1_CD19+</text>
<text transform="translate(83.90,733.6) rotate(90) scale(0.953,1)" font-size="9.4">donor2_CD19-</text>
<text transform="translate(112.06,733.6) rotate(90) scale(0.953,1)" font-size="9.4">donor2_CD19+</text>
<text transform="translate(140.22,733.6) rotate(90) scale(0.953,1)" font-size="9.4">donor3_CD19-</text>
<text transform="translate(168.38,733.6) rotate(90) scale(0.953,1)" font-size="9.4">donor3_CD19+</text>
<text transform="translate(196.54,733.6) rotate(90) scale(0.953,1)" font-size="9.4">donor4_CD19-</text>
<text transform="translate(224.70,733.6) rotate(90) scale(0.953,1)" font-size="9.4">donor4_CD19+</text>
<text transform="translate(252.86,733.6) rotate(90) scale(0.953,1)" font-size="9.4">donor5_CD19-</text>
<text transform="translate(281.02,733.6) rotate(90) scale(0.953,1)" font-size="9.4">donor5_CD19+</text>
<text transform="translate(309.18,733.6) rotate(90) scale(0.953,1)" font-size="9.4">donor6_CD19-</text>
<text transform="translate(337.34,733.6) rotate(90) scale(0.953,1)" font-size="9.4">donor6_CD19+</text>
<rect x="461.1" y="447.2" width="13.8" height="205.4" fill="url(#lg)"/>
<text transform="translate(480.6,478.5) scale(0.94,1)" font-size="9.2">2.5</text>
<text transform="translate(480.6,514.6) scale(0.94,1)" font-size="9.2">2</text>
<text transform="translate(480.6,550.8) scale(0.94,1)" font-size="9.2">1.5</text>
<text transform="translate(480.6,586.5) scale(0.94,1)" font-size="9.2">1</text>
<text transform="translate(480.6,622.3) scale(0.94,1)" font-size="9.2">0.5</text>
<text transform="translate(480.6,658.0) scale(0.94,1)" font-size="9.2">0</text>
<rect x="0" y="0" width="520" height="1.7" fill="#2b2b2b"/>
<rect x="0" y="807.8" width="520" height="2.2" fill="#2b2b2b"/>
<rect x="0" y="0" width="1.8" height="810" fill="#2b2b2b"/>
<rect x="517.8" y="0" width="2.2" height="810" fill="#2b2b2b"/>
</svg>
</body>
</html>
